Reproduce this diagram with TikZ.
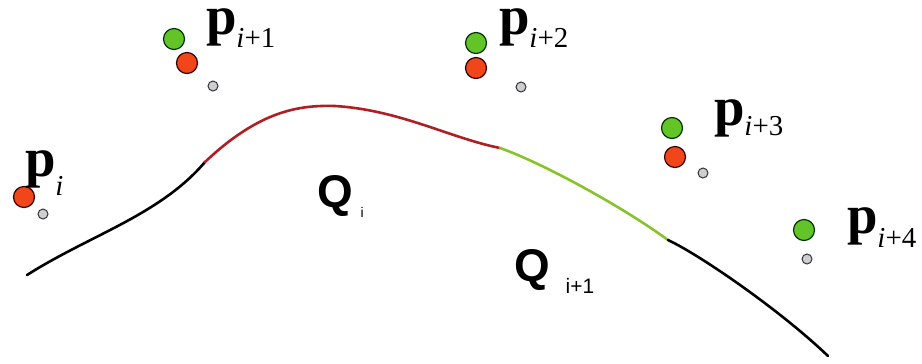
\documentclass[tikz,border=0pt]{standalone}
\usepackage{fontspec}
\setmainfont{Liberation Serif}
\setsansfont{Liberation Sans}
\usepackage{tikz}
\definecolor{ptgreen}{RGB}{98,196,38}
\definecolor{ptred}{RGB}{240,70,25}
\definecolor{ptgray}{RGB}{205,205,210}
\definecolor{segred}{RGB}{175,30,35}
\definecolor{seggreen}{RGB}{135,195,45}
\newcommand{\plab}[2]{\raisebox{0pt}[26bp][12bp]{\fontsize{55}{55}\selectfont\bfseries p}%
  \raisebox{-#1}{\fontsize{29}{29}\selectfont\itshape i\upshape#2}}

\begin{document}
\begin{tikzpicture}[x=1bp, y=-1bp,
  gdot/.style={circle, draw=black!80!green, fill=ptgreen, line width=1.2pt,
               minimum size=21bp, inner sep=0pt},
  rdot/.style={circle, draw=black!80!red, fill=ptred, line width=1.2pt,
               minimum size=21bp, inner sep=0pt},
  sdot/.style={circle, draw=black!80, fill=ptgray, line width=1pt,
               minimum size=10bp, inner sep=0pt},
  lab/.style={anchor=base west, inner sep=0pt, outer sep=0pt},
  seg/.style={line width=2.6pt, line cap=round}]
  \useasboundingbox (0,0) rectangle (922,363);

  \coordinate (c0) at (27,275);
  \coordinate (c1) at (205,162);
  \coordinate (top) at (335,106);
  \coordinate (c2) at (500,148);
  \coordinate (c3) at (668,240);
  \coordinate (c4) at (828,356);
  \draw[seg, black] (c0) .. controls (90,235) and (160,215) .. (c1);
  \draw[seg, segred] (c1) .. controls (260,110) and (300,105) .. (top)
        .. controls (400,110) and (450,138) .. (c2);
  \draw[seg, seggreen] (c2) .. controls (540,162) and (620,205) .. (c3);
  \draw[seg, black] (c3) .. controls (700,255) and (780,310) .. (c4);

  \node[rdot] (r0) at (24,197) {};
  \node[sdot] (s0) at (43,214) {};
  \node[gdot] (g1) at (174,39) {};
  \node[rdot] (r1) at (187,63) {};
  \node[sdot] (s1) at (213,86) {};
  \node[gdot] (g2) at (476,43) {};
  \node[rdot] (r2) at (476,68) {};
  \node[sdot] (s2) at (521,87) {};
  \node[gdot] (g3) at (672,128) {};
  \node[rdot] (r3) at (675,157) {};
  \node[sdot] (s3) at (703,173) {};
  \node[gdot] (g4) at (804,230) {};
  \node[sdot] (s4) at (807,259) {};

  \node[lab] (p0) at (25,176) {\plab{19bp}{}};
  \node[lab] (p1) at (206,34) {\plab{13bp}{+1}};
  \node[lab] (p2) at (499,34) {\plab{13bp}{+2}};
  \node[lab] (p3) at (714,125) {\plab{10bp}{+3}};
  \node[lab] (p4) at (847,233) {\plab{14bp}{+4}};

  \node[lab, font=\sffamily\bfseries] (q0) at (317,207)
       {\fontsize{46}{46}\selectfont Q\hspace{8bp}\raisebox{-10bp}{\fontsize{14}{14}\selectfont\mdseries i}};
  \node[lab, font=\sffamily\bfseries] (q1) at (514,281)
       {\fontsize{46}{46}\selectfont Q\hspace{16bp}\raisebox{-12bp}{\fontsize{21}{21}\selectfont\mdseries i+1}};
\end{tikzpicture}
\end{document}
